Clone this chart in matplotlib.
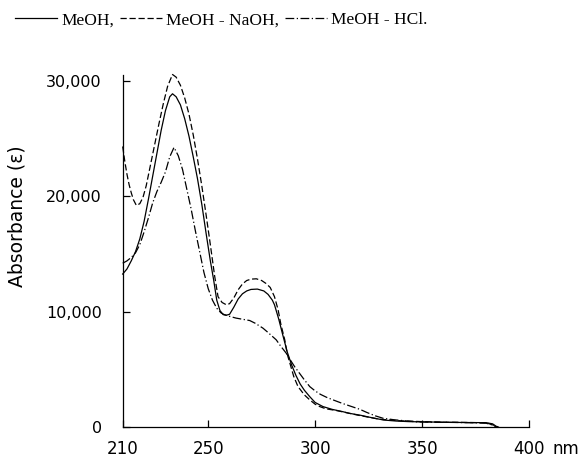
"""
UV absorption spectra in MeOH, MeOH-NaOH and MeOH-HCl.
"""
import matplotlib
matplotlib.use("Agg")
import matplotlib.pyplot as plt
from matplotlib.lines import Line2D

# Wavelength (nm) / absorbance (epsilon)
meoh_nm = [210, 212, 214, 216, 218, 220, 222, 224, 226, 228, 230, 232, 233.3,
           235, 237, 239, 241, 243, 245, 247, 249, 251, 252.5, 254, 255.5, 257,
           258.5, 260, 262, 264, 266, 268, 270, 273, 276, 278, 280, 281, 283,
           285, 287, 289, 291, 293, 295, 297.5, 300, 303.7, 308, 313, 316, 321,
           326, 332, 338, 344, 350, 363, 372, 380, 383, 385]
meoh_eps = [13260, 13700, 14400, 15200, 16300, 17800, 19700, 21700, 23700,
            25700, 27400, 28600, 28860, 28600, 27900, 26700, 25200, 23400,
            21500, 19300, 16800, 14400, 12800, 11000, 10100, 9750, 9700, 9780,
            10400, 11100, 11550, 11800, 11930, 11960, 11800, 11500, 11000,
            10600, 9350, 7900, 6500, 5400, 4500, 3750, 3200, 2650, 2150, 1790,
            1550, 1350, 1210, 1050, 850, 630, 540, 490, 470, 430, 410, 400,
            300, 50]

naoh_nm = [210, 211, 212, 213, 214, 215, 216.4, 218, 219.5, 221, 223, 225, 227,
           229, 231, 233.3, 235, 237, 239, 241, 243, 245, 247, 249, 251, 253,
           254.6, 256.5, 258.5, 260, 262, 264, 266, 268, 270, 272.5, 275, 277,
           279, 281, 282.7, 284, 285.8, 287, 288.2, 290, 292, 295, 297.5, 300,
           302.2, 305, 310, 316, 320, 330, 340, 350, 360, 370, 380, 384, 386]
naoh_eps = [24300, 23000, 21900, 21000, 20300, 19700, 19200, 19350, 19900,
            20900, 22700, 24500, 26300, 28000, 29500, 30530, 30300, 29600,
            28500, 27100, 25300, 23200, 20900, 18400, 15800, 13100, 11300,
            10800, 10600, 10700, 11200, 11900, 12400, 12700, 12820, 12850,
            12700, 12450, 12100, 11300, 10160, 8900, 7570, 6300, 5550, 4400,
            3520, 2800, 2370, 2000, 1790, 1600, 1450, 1210, 1050, 700, 560,
            490, 440, 420, 390, 150, 0]

hcl_nm = [210, 212, 214, 216, 218, 220, 222, 224, 226, 228, 230, 232, 234, 236,
          238, 240, 242, 244, 246, 248, 250, 252, 254, 256, 257.5, 260, 263,
          266, 269.4, 272, 275.6, 278, 281.8, 284, 286.5, 288.5, 290.4, 293,
          295, 297.5, 300, 302.5, 305.3, 308.4, 313, 317, 321, 324, 328, 331.8,
          337, 342.8, 347.4, 355, 365, 375, 380, 383, 385]
hcl_eps = [14200, 14400, 14700, 15100, 15800, 16900, 18100, 19400, 20400,
           21200, 22100, 23400, 24220, 23500, 22300, 20600, 18900, 17000,
           15200, 13400, 12000, 11000, 10300, 9900, 9750, 9600, 9450, 9350,
           9240, 9000, 8580, 8200, 7570, 7000, 6410, 5800, 5250, 4600, 4100,
           3520, 3150, 2850, 2600, 2370, 2050, 1800, 1550, 1300, 1000, 780,
           650, 550, 470, 440, 420, 390, 350, 200, 0]

x_ticks = [210, 250, 300, 350, 400]
x_labels = ["210", "250", "300", "350", "400"]
y_ticks = [0, 10000, 20000, 30000]
y_labels = ["0", "10,000", "20,000", "30,000"]
series_labels = ["MeOH,", "MeOH - NaOH,", "MeOH - HCl."]

# line styles (solid, dashed, dash-dot as in the printed figure)
styles = ["-", (0, (5, 2.2)), (0, (7, 2, 1, 2))]
lw = 0.9

fig = plt.figure(figsize=(5.82, 4.57), dpi=100)
ax = fig.add_axes([0.2108, 0.065, 0.698, 0.771])

for xs, ys, ls in zip([meoh_nm, naoh_nm, hcl_nm],
                      [meoh_eps, naoh_eps, hcl_eps], styles):
    ax.plot(xs, ys, color="black", linestyle=ls, linewidth=lw, clip_on=False)

ax.set_xlim(210, 400)
ax.set_ylim(0, 30490)

# only left and bottom axis lines
ax.spines["top"].set_visible(False)
ax.spines["right"].set_visible(False)
for side in ["left", "bottom"]:
    ax.spines[side].set_linewidth(0.9)

ax.set_xticks(x_ticks)
ax.set_xticklabels(x_labels, fontfamily="DejaVu Sans", fontsize=12)
ax.set_yticks(y_ticks)
ax.set_yticklabels(y_labels, fontfamily="DejaVu Sans", fontsize=11.5)
ax.tick_params(axis="x", direction="in", length=5, width=0.9, pad=9)
ax.tick_params(axis="y", direction="in", length=5, width=0.9, pad=15)

# unit next to the last x tick label
ax.annotate("nm", xy=(400, 0), xycoords="data", xytext=(17, -9.4),
            textcoords="offset points", ha="left", va="top",
            fontfamily="DejaVu Sans", fontsize=12)

fig.text(0.03, 0.527, "Absorbance (ε)", rotation=90, ha="center",
         va="center", fontfamily="DejaVu Sans", fontsize=13.5)

# legend written as a line of text above the plot
handles = [Line2D([], [], color="black", linestyle=ls, linewidth=lw)
           for ls in styles]
fig.legend(handles, series_labels, loc="center", ncol=3,
           bbox_to_anchor=(0.38, 0.956), frameon=False,
           prop={"family": "Liberation Serif", "size": 12.5},
           handlelength=2.4, handletextpad=0.25, columnspacing=0.35,
           borderaxespad=0, borderpad=0)

fig.savefig("out.png", dpi=100)
